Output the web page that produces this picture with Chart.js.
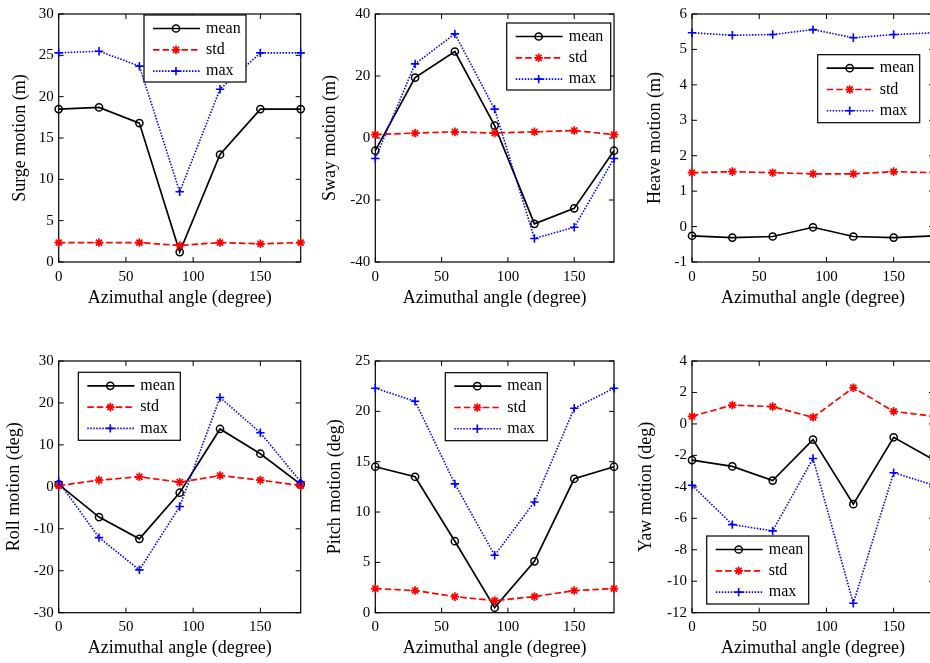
<!DOCTYPE html>
<html>
<head>
<meta charset="utf-8">
<script src="https://cdn.jsdelivr.net/npm/chart.js@4/dist/chart.umd.min.js"></script>
<style>
  html, body { margin: 0; padding: 0; background: #fff; }
  body { width: 930px; height: 663px; overflow: hidden; position: relative; }
  canvas { position: absolute; }
</style>
</head>
<body>
<canvas id="surge" width="310" height="330" style="left:0;top:0"></canvas>
<canvas id="sway" width="310" height="330" style="left:310px;top:0"></canvas>
<canvas id="heave" width="320" height="330" style="left:620px;top:0"></canvas>
<canvas id="roll" width="310" height="333" style="left:0;top:330px"></canvas>
<canvas id="pitch" width="310" height="333" style="left:310px;top:330px"></canvas>
<canvas id="yaw" width="320" height="333" style="left:620px;top:330px"></canvas>
<script>
// Wave heading angles (degree)
const angles = [0, 30, 60, 90, 120, 150, 180];
const angleTicks = [0, 50, 100, 150];

// Surge (m)
const surgeMean = [18.5, 18.7, 16.8, 1.2, 13.0, 18.5, 18.5];
const surgeStd  = [2.35, 2.35, 2.35, 2.0, 2.35, 2.2, 2.35];
const surgeMax  = [25.3, 25.5, 23.7, 8.5, 20.9, 25.3, 25.3];
const surgeTicks = [0, 5, 10, 15, 20, 25, 30];

// Sway (m)
const swayMean = [-4.1, 19.5, 27.9, 4.0, -27.7, -22.7, -4.1];
const swayStd  = [1.1, 1.6, 2.0, 1.6, 2.0, 2.4, 1.1];
const swayMax  = [-6.6, 23.9, 33.6, 9.3, -32.4, -28.8, -6.6];
const swayTicks = [-40, -20, 0, 20, 40];

// Heave (m)
const heaveMean = [-0.26, -0.31, -0.28, -0.02, -0.28, -0.31, -0.26];
const heaveStd  = [1.52, 1.55, 1.52, 1.49, 1.49, 1.55, 1.52];
const heaveMax  = [5.47, 5.40, 5.42, 5.56, 5.33, 5.42, 5.47];
const heaveTicks = [-1, 0, 1, 2, 3, 4, 5, 6];

// Roll (deg)
const rollMean = [0.6, -7.2, -12.4, -1.4, 13.8, 7.9, 0.6];
const rollStd  = [0.3, 1.6, 2.4, 1.1, 2.7, 1.6, 0.3];
const rollMax  = [1.2, -12.1, -19.8, -4.7, 21.3, 12.9, 1.2];
const rollTicks = [-30, -20, -10, 0, 10, 20, 30];

// Pitch (deg)
const pitchMean = [14.5, 13.5, 7.1, 0.5, 5.1, 13.3, 14.5];
const pitchStd  = [2.4, 2.2, 1.6, 1.2, 1.6, 2.2, 2.4];
const pitchMax  = [22.3, 21.0, 12.8, 5.7, 11.0, 20.3, 22.3];
const pitchTicks = [0, 5, 10, 15, 20, 25];

// Yaw (deg)
const yawMean = [-2.3, -2.7, -3.6, -1.0, -5.1, -0.85, -2.3];
const yawStd  = [0.48, 1.2, 1.1, 0.42, 2.3, 0.8, 0.48];
const yawMax  = [-3.9, -6.4, -6.8, -2.2, -11.4, -3.1, -3.9];
const yawTicks = [-12, -10, -8, -6, -4, -2, 0, 2, 4];

const FONT = 'Liberation Serif, Times New Roman, serif';
const INK = '#000';
Chart.defaults.font.family = FONT;
Chart.defaults.color = INK;

function drawMarker(ctx, style, x, y, r) {
  ctx.beginPath();
  if (style === 'circle') {
    ctx.arc(x, y, r, 0, Math.PI * 2);
  } else if (style === 'cross') {
    ctx.moveTo(x - r, y); ctx.lineTo(x + r, y);
    ctx.moveTo(x, y - r); ctx.lineTo(x, y + r);
  } else {
    const d = r * Math.SQRT1_2;
    ctx.moveTo(x - r, y); ctx.lineTo(x + r, y);
    ctx.moveTo(x, y - r); ctx.lineTo(x, y + r);
    ctx.moveTo(x - d, y - d); ctx.lineTo(x + d, y + d);
    ctx.moveTo(x - d, y + d); ctx.lineTo(x + d, y - d);
  }
  ctx.stroke();
}

// Axes box with inward tick marks on all four sides
const frameTicks = {
  id: 'frameTicks',
  beforeDatasetsDraw(chart, args, opts) {
    const { ctx, chartArea: a, scales: { x, y } } = chart;
    const len = opts.len;
    ctx.save();
    ctx.strokeStyle = INK;
    ctx.lineWidth = 1;
    ctx.beginPath();
    x.ticks.forEach(t => {
      const px = x.getPixelForValue(t.value);
      ctx.moveTo(px, a.bottom); ctx.lineTo(px, a.bottom - len);
      ctx.moveTo(px, a.top); ctx.lineTo(px, a.top + len);
    });
    y.ticks.forEach(t => {
      const py = y.getPixelForValue(t.value);
      ctx.moveTo(a.left, py); ctx.lineTo(a.left + len, py);
      ctx.moveTo(a.right, py); ctx.lineTo(a.right - len, py);
    });
    ctx.stroke();
    ctx.lineWidth = 1.2;
    ctx.strokeRect(a.left, a.top, a.right - a.left, a.bottom - a.top);
    ctx.restore();
  }
};

// Boxed legend placed inside the plotting area
const boxLegend = {
  id: 'boxLegend',
  afterDatasetsDraw(chart, args, o) {
    const { ctx, chartArea: a } = chart;
    const x0 = a.left + o.dx, y0 = a.top + o.dy;
    ctx.save();
    ctx.fillStyle = '#fff';
    ctx.fillRect(x0, y0, o.width, o.height);
    ctx.strokeStyle = INK;
    ctx.lineWidth = 1.2;
    ctx.strokeRect(x0, y0, o.width, o.height);
    chart.data.datasets.forEach((ds, i) => {
      const cy = y0 + o.firstRow + i * o.rowGap;
      ctx.strokeStyle = ds.borderColor;
      ctx.lineWidth = ds.borderWidth;
      ctx.setLineDash(ds.borderDash || []);
      ctx.beginPath();
      ctx.moveTo(x0 + o.lineStart, cy);
      ctx.lineTo(x0 + o.lineEnd, cy);
      ctx.stroke();
      ctx.setLineDash([]);
      ctx.lineWidth = ds.pointBorderWidth;
      drawMarker(ctx, ds.pointStyle, x0 + o.markerX, cy, ds.pointRadius);
      ctx.fillStyle = INK;
      ctx.font = '16px ' + FONT;
      ctx.textBaseline = 'middle';
      ctx.textAlign = 'left';
      ctx.fillText(ds.label, x0 + o.textX, cy);
    });
    ctx.restore();
  }
};

function points(values) {
  return angles.map((a, i) => ({ x: a, y: values[i] }));
}

function buildPanel(id, p) {
  const datasets = [
    { label: 'mean', data: points(p.mean), borderColor: '#000', borderWidth: 1.7,
      pointStyle: 'circle', pointRadius: 3.6, pointBorderWidth: 1.5,
      pointBackgroundColor: 'rgba(0,0,0,0)', pointBorderColor: '#000', order: 3 },
    { label: 'std', data: points(p.std), borderColor: '#ff0000', borderWidth: 1.7,
      borderDash: [6.5, 3], pointStyle: 'star', pointRadius: 4.3, pointBorderWidth: 1.7,
      pointBackgroundColor: '#ff0000', pointBorderColor: '#ff0000', order: 2 },
    { label: 'max', data: points(p.max), borderColor: '#0000ff', borderWidth: 1.6,
      borderDash: [1.5, 1.5], pointStyle: 'cross', pointRadius: 4.2, pointBorderWidth: 1.6,
      pointBackgroundColor: '#0000ff', pointBorderColor: '#0000ff', order: 1 }
  ];
  datasets.forEach(d => { d.tension = 0; d.fill = false; d.clip = false; d.pointHoverRadius = d.pointRadius; });

  return new Chart(document.getElementById(id), {
    type: 'line',
    data: { datasets },
    options: {
      responsive: false,
      animation: false,
      events: [],
      layout: { padding: { left: 0, top: p.padTop, right: p.padRight, bottom: 0 } },
      scales: {
        x: {
          type: 'linear', min: 0, max: 180,
          grid: { display: false, drawTicks: false },
          border: { display: false },
          ticks: { padding: p.xTickPad, autoSkip: false, maxRotation: 0,
                   font: { size: 15 }, color: INK, callback: v => String(v) },
          afterBuildTicks: s => { s.ticks = angleTicks.map(v => ({ value: v })); },
          afterFit: s => { s.height = p.xAxisH; },
          title: { display: true, text: 'Azimuthal angle (degree)', color: INK,
                   font: { size: 18 }, padding: { top: 0, bottom: p.xTitlePad } }
        },
        y: {
          type: 'linear', min: p.ticks[0], max: p.ticks[p.ticks.length - 1],
          grid: { display: false, drawTicks: false },
          border: { display: false },
          ticks: { padding: 5, autoSkip: false, font: { size: 15 }, color: INK,
                   callback: v => String(v) },
          afterBuildTicks: s => { s.ticks = p.ticks.map(v => ({ value: v })); },
          afterFit: s => { s.width = p.yAxisW; },
          title: { display: true, text: p.yTitle, color: INK,
                   font: { size: 18 }, padding: { top: p.yTitlePad, bottom: 0 } }
        }
      },
      plugins: {
        legend: { display: false },
        tooltip: { enabled: false },
        frameTicks: { len: 5 },
        boxLegend: Object.assign({ width: 102, height: 68, firstRow: 13.5, rowGap: 21.3,
                                   lineStart: 9, lineEnd: 56, markerX: 32, textX: 62 }, p.legend)
      }
    },
    plugins: [frameTicks, boxLegend]
  });
}

const topRow = { padTop: 11, xAxisH: 68, xTickPad: 6.5, xTitlePad: 20.5 };
const bottomRow = { padTop: 31, xAxisH: 50.3, xTickPad: 5, xTitlePad: 3.5 };

buildPanel('surge', Object.assign({}, topRow, {
  mean: surgeMean, std: surgeStd, max: surgeMax, ticks: surgeTicks,
  yTitle: 'Surge motion (m)', yAxisW: 58.7, padRight: 9.3, yTitlePad: 9,
  legend: { dx: 85.3, dy: 1, height: 67 }
}));
buildPanel('sway', Object.assign({}, topRow, {
  mean: swayMean, std: swayStd, max: swayMax, ticks: swayTicks,
  yTitle: 'Sway motion (m)', yAxisW: 65.3, padRight: 4, yTitlePad: 9.5,
  legend: { dx: 131.4, dy: 9, width: 104, height: 67 }
}));
buildPanel('heave', Object.assign({}, topRow, {
  mean: heaveMean, std: heaveStd, max: heaveMax, ticks: heaveTicks,
  yTitle: 'Heave motion (m)', yAxisW: 72, padRight: 6, yTitlePad: 24,
  legend: { dx: 125.7, dy: 40.7 }
}));
buildPanel('roll', Object.assign({}, bottomRow, {
  mean: rollMean, std: rollStd, max: rollMax, ticks: rollTicks,
  yTitle: 'Roll motion (deg)', yAxisW: 58.7, padRight: 9.3, yTitlePad: 3,
  legend: { dx: 19.6, dy: 11.3 }
}));
buildPanel('pitch', Object.assign({}, bottomRow, {
  mean: pitchMean, std: pitchStd, max: pitchMax, ticks: pitchTicks,
  yTitle: 'Pitch motion (deg)', yAxisW: 65.3, padRight: 4, yTitlePad: 14,
  legend: { dx: 70, dy: 11.7 }
}));
buildPanel('yaw', Object.assign({}, bottomRow, {
  mean: yawMean, std: yawStd, max: yawMax, ticks: yawTicks,
  yTitle: 'Yaw motion (deg)', yAxisW: 72, padRight: 6, yTitlePad: 15.5,
  legend: { dx: 14.7, dy: 175 }
}));
</script>
</body>
</html>
